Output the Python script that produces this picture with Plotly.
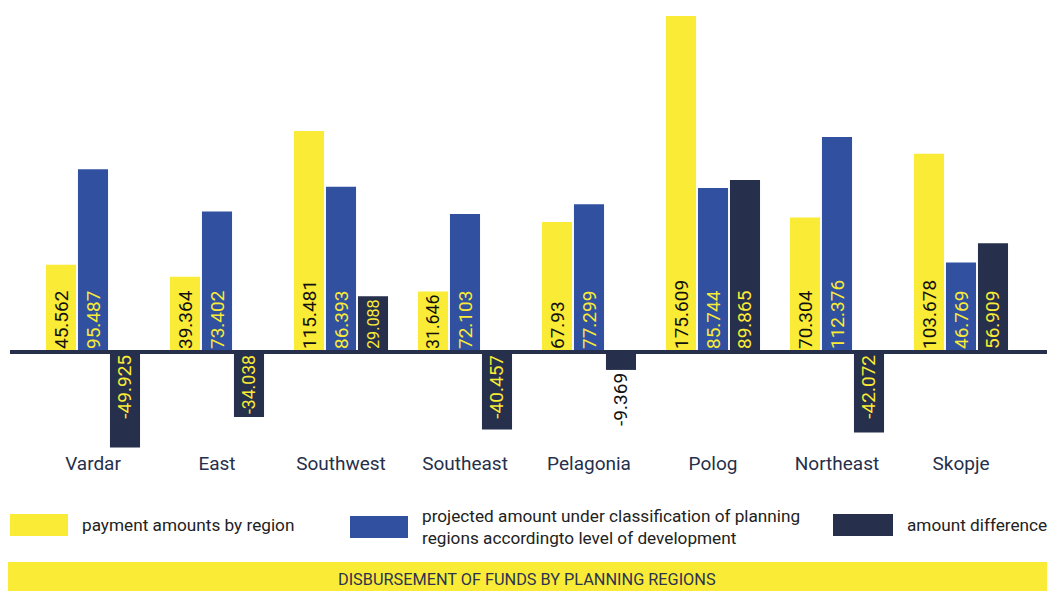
import plotly.graph_objects as go

regions = ['Vardar', 'East', 'Southwest', 'Southeast', 'Pelagonia', 'Polog', 'Northeast', 'Skopje']
paid = [45.562, 39.364, 115.481, 31.646, 67.93, 175.609, 70.304, 103.678]
projected = [95.487, 73.402, 86.393, 72.103, 77.299, 85.744, 112.376, 46.769]
difference = [-49.925, -34.038, 29.088, -40.457, -9.369, 89.865, -42.072, 56.909]

YELLOW = '#F9EB36'
BLUE = '#3150A0'
DARK = '#262F4B'
NARROW = 'Liberation Sans Narrow, Roboto, sans-serif'
# page has an 8px body margin, so the figure is a bit smaller than the window
OFF = 8
W, H = 1055 - OFF, 592 - OFF
L, R, T, B = 31 - OFF, 32, 10 - OFF, 144


def px(x):
    return (x - OFF - L) / (W - L - R)


def py(y):
    return (H - B - (y - OFF)) / (H - T - B)


fig = go.Figure()
for vals, col, tcol in [(paid, YELLOW, '#111111'), (projected, BLUE, YELLOW), (difference, DARK, YELLOW)]:
    fig.add_trace(go.Bar(
        x=regions, y=vals, marker_color=col, marker_line_width=0,
        text=[str(v) for v in vals],
        textposition=['inside' if abs(v) > 20 else 'outside' for v in vals],
        textangle=-90, insidetextanchor='start', constraintext='inside',
        insidetextfont=dict(family=NARROW, size=19, color=tcol),
        outsidetextfont=dict(family=NARROW, size=19, color='#111111'),
        cliponaxis=False,
    ))

# zero line across the chart
fig.add_shape(type='line', xref='paper', yref='y', x0=px(10), x1=px(1050), y0=0, y1=0,
              line=dict(color=DARK, width=4), layer='above')

# legend drawn by hand
legend = [
    (10, 68, 514, 536, YELLOW, 80, 'payment amounts by region'),
    (350, 408, 516, 538, BLUE, 420, 'projected amount under classification of planning<br>regions accordingto level of development'),
    (833, 893, 514, 536, DARK, 905, 'amount difference'),
]
for x0, x1, y0, y1, col, tx, label in legend:
    fig.add_shape(type='rect', xref='paper', yref='paper', x0=px(x0), x1=px(x1), y0=py(y1), y1=py(y0),
                  fillcolor=col, line_width=0)
    fig.add_annotation(xref='paper', yref='paper', x=px(tx), y=py((y0 + y1) / 2), text=label,
                       showarrow=False, xanchor='left', yanchor='middle', align='left',
                       font=dict(family='Roboto, sans-serif', size=17.2, color='#222222'))

# title band
fig.add_shape(type='rect', xref='paper', yref='paper', x0=px(8), x1=px(1047), y0=py(591), y1=py(562),
              fillcolor=YELLOW, line_width=0)
fig.add_annotation(xref='paper', yref='paper', x=px(527), y=py(579), xanchor='center', yanchor='middle',
                   text='DISBURSEMENT OF FUNDS BY PLANNING REGIONS', showarrow=False,
                   font=dict(family=NARROW, size=16.3, color='#2B3350'))

fig.update_layout(
    width=W, height=H, barmode='group', bargap=0.226, bargroupgap=0.06,
    margin=dict(l=L, r=R, t=T, b=B), showlegend=False,
    paper_bgcolor='white', plot_bgcolor='white',
    xaxis=dict(showgrid=False, showline=False, ticks='', ticklabelstandoff=2,
               tickfont=dict(family='Roboto, sans-serif', size=19, color=DARK)),
    yaxis=dict(range=[-50.18, 178.78], visible=False, showgrid=False, zeroline=False),
)

fig.write_html('out.html')
